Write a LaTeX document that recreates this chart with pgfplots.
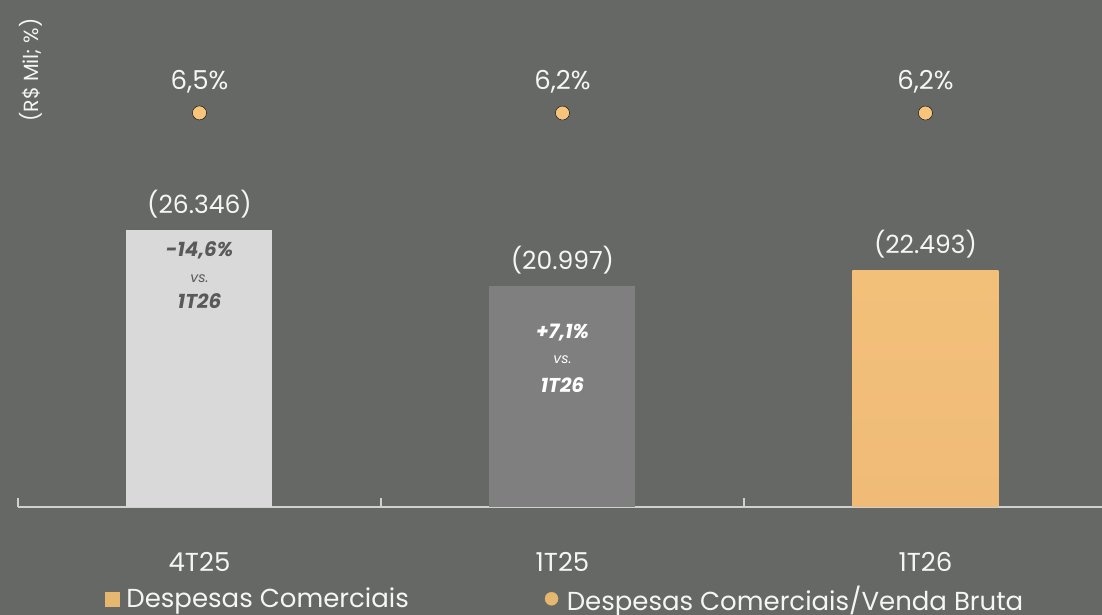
\documentclass[border=0pt]{standalone}
\usepackage{pgfplots}
\usepackage{pgfplotstable}
\pgfplotsset{compat=1.18}
\usepackage{fontspec}
\setmainfont{Poppins}
\definecolor{bg}{HTML}{666866}
\definecolor{barA}{HTML}{D9D9D9}
\definecolor{barB}{HTML}{7F7F7F}
\definecolor{barC}{HTML}{F3C07A}
\definecolor{barCb}{HTML}{EFBB77}
\definecolor{dotc}{HTML}{F6C47A}
\definecolor{legc}{HTML}{E6B86F}
\definecolor{axc}{HTML}{D0D0D0}
\definecolor{txt}{HTML}{F5F5F5}
\definecolor{dark}{HTML}{595959}

\pgfplotstableread{
x y lab
0 26346 26.346
}\dA
\pgfplotstableread{
x y lab
1 20997 20.997
}\dB
\pgfplotstableread{
x y lab
2 22493 22.493
}\dC
\pgfplotstableread{
x y lab
0 6.5 {6,5\%}
1 6.2 {6,2\%}
2 6.2 {6,2\%}
}\dR

\newcommand{\lbl}{\fontsize{26}{30}\selectfont}
\begin{document}
\begin{tikzpicture}[x=1pt,y=1pt]
\fill[bg] (0,0) rectangle (1102,615);
\useasboundingbox (0,0) rectangle (1102,615);
\node[rotate=90, text=txt, font=\fontsize{20.5}{24}\selectfont] at (31,545) {(R\$ Mil; \%)};
\begin{axis}[
  at={(18pt,108pt)}, anchor=south west,
  scale only axis, width=1083.5pt, height=507pt,
  xmin=-0.5, xmax=2.485, ymin=0, ymax=48240,
  axis x line=bottom, axis y line=none,
  x axis line style={-, draw=axc, line width=2pt},
  xtick={0,1,2}, xticklabels={4T25,1T25,1T26},
  major tick length=0pt,
  xticklabel style={text=txt, font=\lbl, anchor=base, yshift=-64.5pt},
  extra x ticks={-0.5,0.5,1.5}, extra x tick labels={},
  extra x tick style={major tick length=9pt, tick align=inside, tick style={draw=axc, line width=1.5pt}},
  ybar, bar width=146pt,
  point meta=explicit symbolic,
  nodes near coords={(\pgfplotspointmeta)},
  every node near coord/.append style={text=txt, font=\fontsize{25}{30}\selectfont, anchor=base, yshift=17pt},
  legend style={at={(0.505,-0.181)}, anchor=center, draw=none, fill=none,
    text=txt, font=\lbl, legend columns=2,
    /tikz/every even column/.append style={column sep=134pt}},
  legend cell align=left,
]
\addplot[bar shift=0pt, draw=none, fill=barA, forget plot] table[x=x,y=y,meta=lab]{\dA};
\addplot[bar shift=0pt, draw=none, fill=barB, forget plot] table[x=x,y=y,meta=lab]{\dB};
\addplot[bar shift=0pt, draw=none, top color=barC, bottom color=barCb, forget plot] table[x=x,y=y,meta=lab]{\dC};
\addlegendimage{legend image code/.code={\fill[legc] (0pt,-7pt) rectangle (14pt,7pt); \path (19pt,0pt);}}
\addlegendentry{Despesas Comerciais}
\addlegendimage{legend image code/.code={\fill[legc] (7pt,0pt) circle (6.5pt); \path (20pt,0pt);}}
\addlegendentry{Despesas Comerciais/Venda Bruta}
\node[text=dark, font=\fontsize{20}{24}\selectfont\bfseries\itshape] at (axis cs:0,24453) {-14,6\%};
\node[text=dark, font=\fontsize{14}{16}\selectfont\itshape] at (axis cs:0,21694) {vs.};
\node[text=dark, font=\fontsize{20}{24}\selectfont\bfseries\itshape] at (axis cs:0,19600) {1T26};
\node[text=white, font=\fontsize{20}{24}\selectfont\bfseries\itshape] at (axis cs:1,16556) {+7,1\%};
\node[text=white, font=\fontsize{14}{16}\selectfont\itshape] at (axis cs:1,13987) {vs.};
\node[text=white, font=\fontsize{20}{24}\selectfont\bfseries\itshape] at (axis cs:1,11608) {1T26};
\end{axis}
\begin{axis}[
  at={(18pt,108pt)}, anchor=south west,
  scale only axis, width=1083.5pt, height=507pt,
  xmin=-0.5, xmax=2.485, ymin=-770.8, ymax=229.2,
  axis lines=none,
  point meta=explicit symbolic,
  nodes near coords={\pgfplotspointmeta},
  every node near coord/.append style={text=txt, font=\lbl, anchor=base, yshift=23.5pt},
]
\addplot[only marks, mark=*, mark size=7pt, mark options={draw=none, fill=dotc}] table[x=x,y=y,meta=lab]{\dR};
\end{axis}
\end{tikzpicture}
\end{document}
